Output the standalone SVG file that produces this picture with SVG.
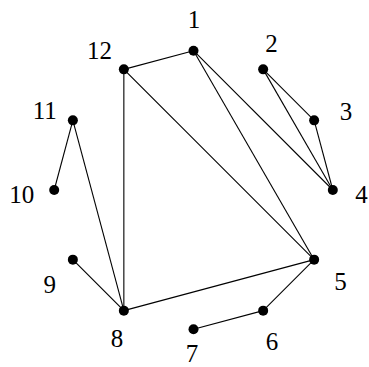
<svg xmlns="http://www.w3.org/2000/svg" width="369" height="367" viewBox="0 0 369 367">
<style>
.e{stroke:#000;stroke-width:1.1;fill:none}
.n circle{fill:#000}
.n text{font-family:'Liberation Serif','Times New Roman',serif;font-size:25px;fill:#000;text-anchor:middle}
</style>
<rect width="369" height="367" fill="#fff"/>
<g id="edges" class="e">
<line x1="123.85" y1="69.36" x2="193.5" y2="50.7"/>
<line x1="193.5" y1="50.7" x2="332.8" y2="190"/>
<line x1="193.5" y1="50.7" x2="314.14" y2="259.65"/>
<line x1="123.85" y1="69.36" x2="314.14" y2="259.65"/>
<line x1="123.85" y1="69.36" x2="123.85" y2="310.64"/>
<line x1="263.15" y1="69.36" x2="314.14" y2="120.35"/>
<line x1="263.15" y1="69.36" x2="332.8" y2="190"/>
<line x1="314.14" y1="120.35" x2="332.8" y2="190"/>
<line x1="72.86" y1="120.35" x2="54.2" y2="190"/>
<line x1="72.86" y1="120.35" x2="123.85" y2="310.64"/>
<line x1="72.86" y1="259.65" x2="123.85" y2="310.64"/>
<line x1="123.85" y1="310.64" x2="314.14" y2="259.65"/>
<line x1="314.14" y1="259.65" x2="263.15" y2="310.64"/>
<line x1="263.15" y1="310.64" x2="193.5" y2="329.3"/>
</g>
<g id="n1" class="n"><circle cx="193.5" cy="50.7" r="5"/><text x="194" y="27.5">1</text></g>
<g id="n2" class="n"><circle cx="263.15" cy="69.36" r="5"/><text x="271.5" y="51.5">2</text></g>
<g id="n3" class="n"><circle cx="314.14" cy="120.35" r="5"/><text x="346" y="119.5">3</text></g>
<g id="n4" class="n"><circle cx="332.8" cy="190" r="5"/><text x="361.5" y="202.5">4</text></g>
<g id="n5" class="n"><circle cx="314.14" cy="259.65" r="5"/><text x="340.5" y="290">5</text></g>
<g id="n6" class="n"><circle cx="263.15" cy="310.64" r="5"/><text x="272" y="350">6</text></g>
<g id="n7" class="n"><circle cx="193.5" cy="329.3" r="5"/><text x="192" y="362">7</text></g>
<g id="n8" class="n"><circle cx="123.85" cy="310.64" r="5"/><text x="117" y="346.5">8</text></g>
<g id="n9" class="n"><circle cx="72.86" cy="259.65" r="5"/><text x="49.7" y="292.5">9</text></g>
<g id="n10" class="n"><circle cx="54.2" cy="190" r="5"/><text x="21.7" y="202.5">10</text></g>
<g id="n11" class="n"><circle cx="72.86" cy="120.35" r="5"/><text x="44.7" y="119">11</text></g>
<g id="n12" class="n"><circle cx="123.85" cy="69.36" r="5"/><text x="99.5" y="59">12</text></g>
</svg>
